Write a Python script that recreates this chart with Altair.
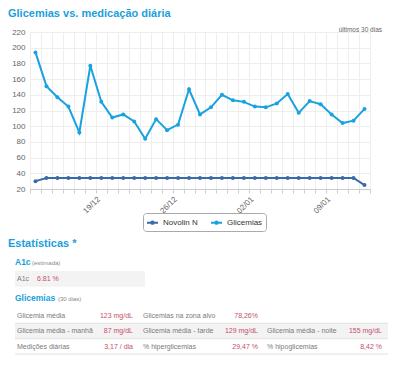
import altair as alt
import pandas as pd

# ---------------- data ----------------
dias = ["13/12", "14/12", "15/12", "16/12", "17/12", "18/12", "19/12", "20/12",
        "21/12", "22/12", "23/12", "24/12", "25/12", "26/12", "27/12", "28/12",
        "29/12", "30/12", "31/12", "01/01", "02/01", "03/01", "04/01", "05/01",
        "06/01", "07/01", "08/01", "09/01", "10/01", "11/01", "12/01"]
glicemias = [194, 151, 137, 125, 92, 177, 131, 111, 115, 106, 84, 109, 95, 102, 147,
             115, 124, 140, 133, 131, 125, 124, 129, 141, 117, 132, 128, 115, 104, 107, 122]
novolin = [30, 34, 34, 34, 34, 34, 34, 34, 34, 34, 34, 34, 34, 34, 34, 34,
           34, 34, 34, 34, 34, 34, 34, 34, 34, 34, 34, 34, 34, 34, 25]
series = ["Novolin N", "Glicemias"]
series_colors = ["#3b6aa8", "#1aa2e0"]
x_labels_shown = ["19/12", "26/12", "02/01", "09/01"]
y_ticks = [20, 40, 60, 80, 100, 120, 140, 160, 180, 200, 220]

a1c_label = "A1c"
a1c_value = "6.81 %"
stat_labels = [["Glicemia média", "Glicemias na zona alvo", ""],
               ["Glicemia média - manhã", "Glicemia média - tarde", "Glicemia média - noite"],
               ["Medições diárias", "% hiperglicemias", "% hipoglicemias"]]
stat_values = [["123 mg/dL", "78,26%", ""],
               ["87 mg/dL", "129 mg/dL", "155 mg/dL"],
               ["3,17 / dia", "29,47 %", "8,42 %"]]

df = pd.DataFrame({
    "dia": dias + dias,
    "valor": novolin + glicemias,
    "serie": [series[0]] * len(dias) + [series[1]] * len(dias),
})

FONT = "Liberation Sans"
CYAN = "#1b9fda"
GREY = "#7a7a7a"
RED = "#c4506c"
one = alt.Data(values=[{"k": 1}])


def txt(s, x, y, size=7, color=GREY, weight="normal", align="left"):
    return alt.Chart(one).mark_text(
        text=s, fontSize=size, color=color, fontWeight=weight, align=align,
        baseline="middle", font=FONT
    ).encode(x=alt.value(x), y=alt.value(y))


def box(x1, x2, y1, y2, color="#f3f3f3"):
    return alt.Chart(one).mark_rect(color=color).encode(
        x=alt.value(x1), x2=alt.value(x2), y=alt.value(y1), y2=alt.value(y2))


def hline(x1, x2, y, color="#e2e2e2"):
    return alt.Chart(one).mark_rule(color=color, strokeWidth=1).encode(
        x=alt.value(x1), x2=alt.value(x2), y=alt.value(y))


label_expr = "indexof(" + str(x_labels_shown) + ", datum.label) >= 0 ? datum.label : ''"

legend_path = "M-1,0H1M-0.22,0A0.22,0.22,0,1,0,0.22,0A0.22,0.22,0,1,0,-0.22,0"

lines = alt.Chart(df).mark_line(
    strokeWidth=2, point=alt.OverlayMarkDef(filled=True, size=16)
).encode(
    x=alt.X("dia:O", sort=dias,
            scale=alt.Scale(type="band", paddingInner=0, paddingOuter=0),
            axis=alt.Axis(title=None, labelAngle=-45, labelFontSize=8, labelColor="#666",
                          labelFont=FONT, tickBand="extent", gridColor="#eeeeee",
                          grid=True, domainColor="#cccccc", tickColor="#cccccc",
                          tickSize=4, labelExpr=label_expr, labelOffset=-5.5)),
    y=alt.Y("valor:Q", scale=alt.Scale(domain=[20, 220], nice=False, zero=False),
            axis=alt.Axis(title=None, values=y_ticks, labelFontSize=8, labelColor="#666",
                          labelFont=FONT, ticks=False, domain=False, gridColor="#eeeeee",
                          labelPadding=5)),
    color=alt.Color("serie:N", scale=alt.Scale(domain=series, range=series_colors),
                    legend=alt.Legend(orient="none", legendX=113, legendY=181,
                                      direction="horizontal", title=None,
                                      strokeColor="#aaaaaa", cornerRadius=3, padding=3,
                                      fillColor="white", labelFontSize=8, labelColor="#333",
                                      labelFont=FONT, symbolType=legend_path,
                                      symbolSize=121, symbolStrokeWidth=2,
                                      columnPadding=9, labelOffset=4)),
    order=alt.Order("serie:N"),
)

layers = [
    box(-15, 115, 239, 254.7),
    box(-15, 358, 291.3, 306.7),
    hline(-15, 358, 291.3),
    hline(-15, 358, 306.7),
    hline(-15, 358, 322),
    lines,
    txt("Glicemias vs. medicação diária", -22, -18, size=11, color=CYAN, weight="bold"),
    txt("últimos 30 dias", 352, -2, size=6.5, color="#666", align="right"),
    txt("Estatísticas *", -22, 212.3, size=11, color=CYAN, weight="bold"),
    txt("A1c", -15, 230, size=8.5, color=CYAN, weight="bold"),
    txt("(estimada)", 2, 230.5, size=6, color="#888"),
    txt(a1c_label, -13, 247.3, size=7, color=GREY),
    txt(a1c_value, 7, 247.3, size=7, color=RED),
    txt("Glicemias", -15, 266.3, size=8.5, color=CYAN, weight="bold"),
    txt("(30 dias)", 28, 266.8, size=6, color="#888"),
]

row_y = [284, 299.3, 315]
label_x = [-13, 113, 237]
value_x = [103, 228, 352]
for r, yy in enumerate(row_y):
    for c in range(3):
        if stat_labels[r][c]:
            layers.append(txt(stat_labels[r][c], label_x[c], yy, size=7, color=GREY))
        if stat_values[r][c]:
            layers.append(txt(stat_values[r][c], value_x[c], yy, size=7, color=RED, align="right"))

chart = alt.layer(*layers).properties(
    width=340, height=157,
    padding={"left": 22, "top": 24, "right": 22, "bottom": 171},
    autosize=alt.AutoSizeParams(type="none"),
    background="white",
).configure_view(stroke=None)

chart.save("out.html", embed_options={"renderer": "svg", "actions": False})
